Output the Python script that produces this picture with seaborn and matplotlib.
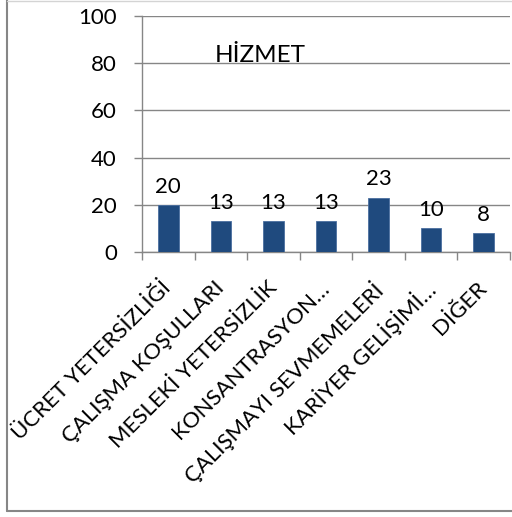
import matplotlib
matplotlib.use("Agg")
import matplotlib.pyplot as plt
import matplotlib.transforms as mtransforms
import seaborn as sns
import pandas as pd
from matplotlib.lines import Line2D

categories = ["ÜCRET YETERSİZLİĞİ", "ÇALIŞMA KOŞULLARI", "MESLEKİ YETERSİZLİK",
              "KONSANTRASYON…", "ÇALIŞMAYI SEVMEMELERİ", "KARİYER GELİŞİMİ…", "DİĞER"]
values = [20, 13, 13, 13, 23, 10, 8]
yticks = [0, 20, 40, 60, 80, 100]
title = "HİZMET"

sns.set_theme(style="white")
plt.rcParams['font.family'] = ['Lato', 'DejaVu Sans']

df = pd.DataFrame({"cat": categories, "val": values})

W, H = 512, 517
fig = plt.figure(figsize=(W / 100, H / 100), dpi=100)
ax = fig.add_axes([142/W, 1 - 252/H, (510-142)/W, (252-16)/H])

sns.barplot(data=df, x="cat", y="val", ax=ax, color="#1F4A7E", width=0.39,
            saturation=1, edgecolor="#4A6FA0", linewidth=0.6, zorder=3)

ax.set_ylim(0, 100)
ax.set_xlim(-0.5, len(categories) - 0.5)
ax.set_yticks(yticks)
ax.set_yticklabels([str(t) for t in yticks], fontsize=16, color="#000000")
ax.yaxis.grid(True, color="#868686", linewidth=1.0)
for gl in ax.get_ygridlines():
    gl.set_zorder(2)
ax.xaxis.grid(False)

ax.set_xticks([i - 0.5 for i in range(len(categories) + 1)], minor=True)
ax.tick_params(axis="x", which="minor", length=6, width=1, color="#868686", bottom=True)

ax.set_xticks(range(len(categories)))
ax.set_xticklabels(categories, rotation=45, ha="right", rotation_mode="anchor",
                   fontsize=16, color="#000000")
ax.tick_params(axis="x", which="major", length=0, pad=5)
ax.tick_params(axis="y", length=6, width=1, color="#868686", left=True, pad=12)

for s in ["top", "right"]:
    ax.spines[s].set_visible(False)
for s in ["left", "bottom"]:
    ax.spines[s].set_color("#868686")
    ax.spines[s].set_linewidth(1)
ax.set_xlabel("")
ax.set_ylabel("")

for i, v in enumerate(values):
    ax.text(i, v + 3.5, str(v), ha="center", va="bottom", fontsize=16, color="#000000", zorder=4)

ax.text(1.74, 79.0, title, ha="center", va="bottom", fontsize=17.5, color="#000000", zorder=1)

fig.lines.append(Line2D([6.5/W, 6.5/W], [1 - 511/H, 1.0], transform=fig.transFigure,
                        color="#868686", linewidth=1.5))
fig.lines.append(Line2D([6.5/W, 1.0], [1 - 511/H, 1 - 511/H], transform=fig.transFigure,
                        color="#868686", linewidth=1.5))
fig.lines.append(Line2D([6.5/W, 1.0], [1 - 0.5/H, 1 - 0.5/H], transform=fig.transFigure,
                        color="#D4D4D4", linewidth=1.0))

fig.canvas.draw()
offset = mtransforms.ScaledTranslation(-7/100, -19/100, fig.dpi_scale_trans)
for tick in ax.xaxis.get_major_ticks():
    tick.label1.set_transform(tick.label1.get_transform() + offset)

fig.savefig("out.png", dpi=100)
